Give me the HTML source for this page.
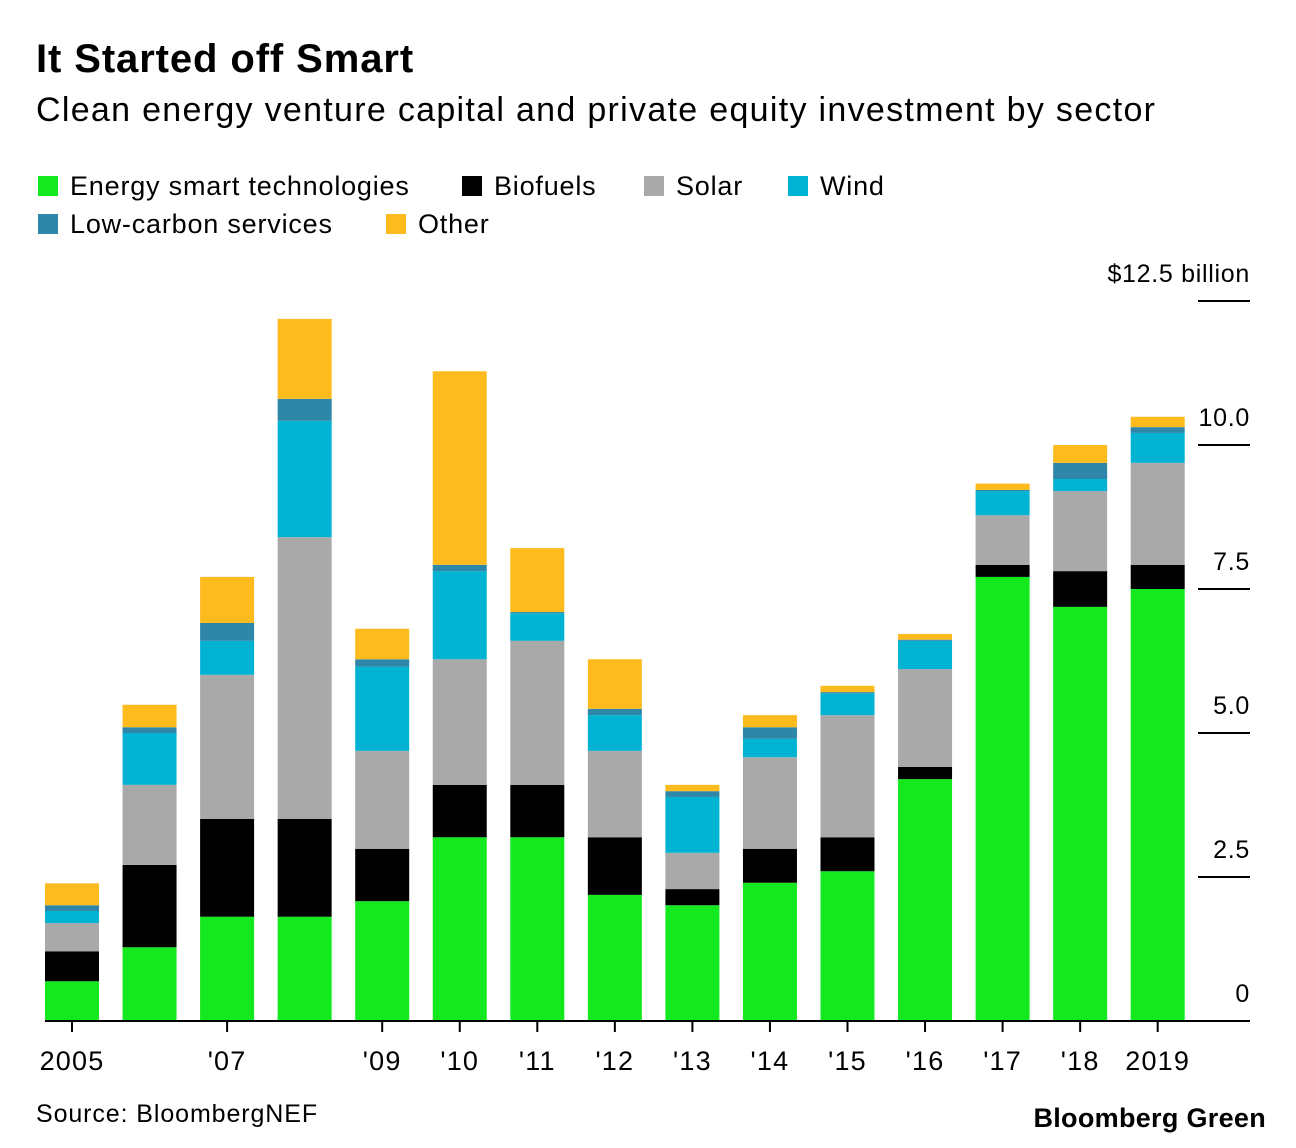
<!DOCTYPE html>
<html><head><meta charset="utf-8"><style>
body{margin:0;background:#fff;font-family:"Liberation Sans",sans-serif;}
#wrap{position:relative;width:1296px;height:1148px;overflow:hidden;}
.t{position:absolute;white-space:nowrap;color:#000;}
</style></head><body><div id="wrap">
<div class="t" style="left:36px;top:37px;font-size:40px;font-weight:bold;letter-spacing:0.9px;">It Started off Smart</div>
<div class="t" style="left:36px;top:91px;font-size:34px;letter-spacing:1.3px;">Clean energy venture capital and private equity investment by sector</div>
<div class="t" style="left:36px;top:1100px;font-size:25px;letter-spacing:0.9px;">Source: BloombergNEF</div>
<div class="t" style="right:30px;top:1103px;font-size:27px;font-weight:bold;letter-spacing:0.3px;">Bloomberg Green</div>
<svg id="svg" width="1296" height="1148" style="position:absolute;left:0;top:0"></svg>
</div>
<script>
const years=['2005','','\'07','','\'09','\'10','\'11','\'12','\'13','\'14','\'15','\'16','\'17','\'18','2019'];
const seriesNames=['Energy smart technologies','Biofuels','Solar','Wind','Low-carbon services','Other'];
const seriesColors=['#14e81e','#000000','#a9a9a9','#00b3d3','#2e86a8','#fdbb1e'];
const energySmart=[0.69,1.28,1.81,1.81,2.08,3.19,3.19,2.19,2.01,2.40,2.60,4.20,7.71,7.19,7.50];
const biofuels=[0.52,1.43,1.70,1.70,0.91,0.91,0.91,1.00,0.28,0.59,0.59,0.21,0.21,0.62,0.42];
const solar=[0.49,1.39,2.50,4.89,1.70,2.18,2.50,1.50,0.63,1.59,2.12,1.70,0.86,1.39,1.77];
const wind=[0.21,0.90,0.59,2.02,1.46,1.53,0.48,0.62,0.97,0.32,0.38,0.49,0.42,0.21,0.52];
const lowCarbon=[0.10,0.10,0.31,0.38,0.13,0.11,0.02,0.11,0.10,0.20,0.02,0.02,0.02,0.28,0.10];
const other=[0.38,0.39,0.80,1.39,0.53,3.36,1.11,0.86,0.11,0.21,0.11,0.10,0.11,0.31,0.18];
const yTicks=[0,2.5,5,7.5,10,12.5];
const yTickLabels=['0','2.5','5.0','7.5','10.0','$12.5 billion'];
const series=[energySmart,biofuels,solar,wind,lowCarbon,other];
const seriesKeys=['energy-smart','biofuels','solar','wind','low-carbon','other'];

const svg=document.getElementById('svg');const NS='http://www.w3.org/2000/svg';
function y(v){return 1021-v*57.6;}
function x(i){return 45+i*77.55;}
const bw=54;
function mk(tag,attrs){const e=document.createElementNS(NS,tag);for(const k in attrs)e.setAttribute(k,attrs[k]);svg.appendChild(e);return e;}

const legPos=[[38,186],[462,186],[644,186],[788,186],[38,224],[386,224]];
seriesNames.forEach((n,s)=>{
  const r=mk('rect',{x:legPos[s][0],y:legPos[s][1]-10,width:20,height:20,fill:seriesColors[s]});
  
  
  const t=mk('text',{x:legPos[s][0]+32,y:legPos[s][1]+9,'font-size':27,'letter-spacing':0.8,fill:'#000'});
  t.textContent=n;
  
  
});

years.forEach((yr,i)=>{
  let base=0;
  series.forEach((arr,s)=>{
    const v=arr[i];
    const r=mk('rect',{x:x(i),y:y(base+v),width:bw,height:Math.max(0,y(base)-y(base+v)),fill:seriesColors[s]});
    
    
    base+=v;
  });
});

yTicks.forEach((v,k)=>{
  if(v>0){
    const l=mk('line',{x1:1198,x2:1250,y1:y(v),y2:y(v),stroke:'#000','stroke-width':2});
    
    
  }
  const t=mk('text',{x:1250,y:y(v)-19,'font-size':25,'letter-spacing':0.7,'text-anchor':'end',fill:'#000'});
  t.textContent=yTickLabels[k];
  
  
});

const ax=mk('line',{x1:45,x2:1250,y1:1021,y2:1021,stroke:'#000','stroke-width':2});


years.forEach((yr,i)=>{
  if(!yr)return;
  const cx=x(i)+bw/2;
  const tk=mk('line',{x1:cx,x2:cx,y1:1021,y2:1032,stroke:'#000','stroke-width':2});
  
  
  const t=mk('text',{x:cx,y:1070,'font-size':27,'letter-spacing':1.2,'text-anchor':'middle',fill:'#000'});
  t.textContent=yr;
  
  
});
</script></body></html>
